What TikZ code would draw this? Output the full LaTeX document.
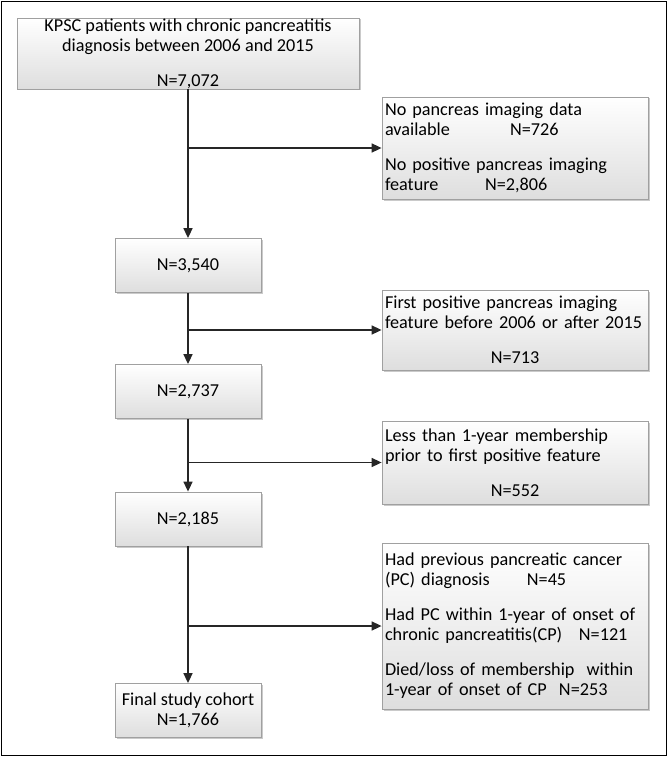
\documentclass[tikz,border=0pt]{standalone}
\usepackage{fontspec}
\setmainfont{Carlito}
\usetikzlibrary{arrows.meta,shadows}
\definecolor{linec}{HTML}{262626}
\definecolor{boxedge}{HTML}{A0A0A0}
\begin{document}
\begin{tikzpicture}[x=1pt,y=-1pt,
  box/.style={draw=boxedge, line width=0.8pt, top color=white, bottom color=black!13,
    drop shadow={shadow xshift=1.5pt, shadow yshift=-1.5pt, fill=black!35, opacity=0.6},
    font=\fontsize{18.2}{20}\selectfont, inner sep=0pt},
  leftbox/.style={box, minimum width=146pt, minimum height=54pt, align=center},
  rightbox/.style={box, minimum width=266pt, text width=260pt, align=left},
  arr/.style={draw=linec, line width=1.6pt, -{Triangle[length=10pt,width=9pt]}},
  seg/.style={draw=linec, line width=1.6pt}]
\useasboundingbox (0,0) rectangle (668,757);
\draw[line width=1.5pt, black] (1.5,1.5) rectangle (666.5,755.5);

\node[box, minimum width=342pt, minimum height=71pt, align=center] (b1) at (188,53.5)
  {KPSC patients with chronic pancreatitis\\diagnosis between 2006 and 2015\\[15pt]N=7,072};
\node[leftbox] (b2) at (188,265.5) {N=3,540};
\node[leftbox] (b3) at (188,391.5) {N=2,737};
\node[leftbox] (b4) at (188,519) {N=2,185};
\node[leftbox] (b5) at (188,710.5) {Final study cohort\\N=1,766};

\node[rightbox, minimum height=102pt] (e1) at (515,148)
  {No pancreas imaging data\\\makebox[125pt][l]{available}N=726\\[15pt]No positive pancreas imaging\\\makebox[100pt][l]{feature}N=2,806};
\node[rightbox, minimum height=80pt] (e2) at (515,330)
  {First positive pancreas imaging\\\mbox{feature before 2006 or after 2015}\\[15pt]\makebox[260pt][c]{N=713}};
\node[rightbox, minimum height=83pt] (e3) at (515,462.5)
  {Less than 1-year membership\\prior to first positive feature\\[15pt]\makebox[260pt][c]{N=552}};
\node[rightbox, minimum height=166pt] (e4) at (515,626)
  {Had previous pancreatic cancer\\\makebox[142pt][l]{(PC) diagnosis}N=45\\[15pt]Had PC within 1-year of onset of\\\makebox[194pt][l]{chronic pancreatitis(CP)}N=121\\[15pt]Died/loss of membership\ \ within\\\makebox[174pt][l]{1-year of onset of CP}N=253};

\draw[arr] (b1.south) -- (b2.north);
\draw[arr] (b2.south) -- (b3.north);
\draw[arr] (b3.south) -- (b4.north);
\draw[arr] (b4.south) -- (b5.north);

\draw[arr] (b1.south |- e1.west) -- (e1.west);
\draw[arr] (b2.south |- e2.west) -- (e2.west);
\draw[arr] (b3.south |- e3.west) -- (e3.west);
\draw[arr] (b4.south |- e4.west) -- (e4.west);
\end{tikzpicture}
\end{document}
